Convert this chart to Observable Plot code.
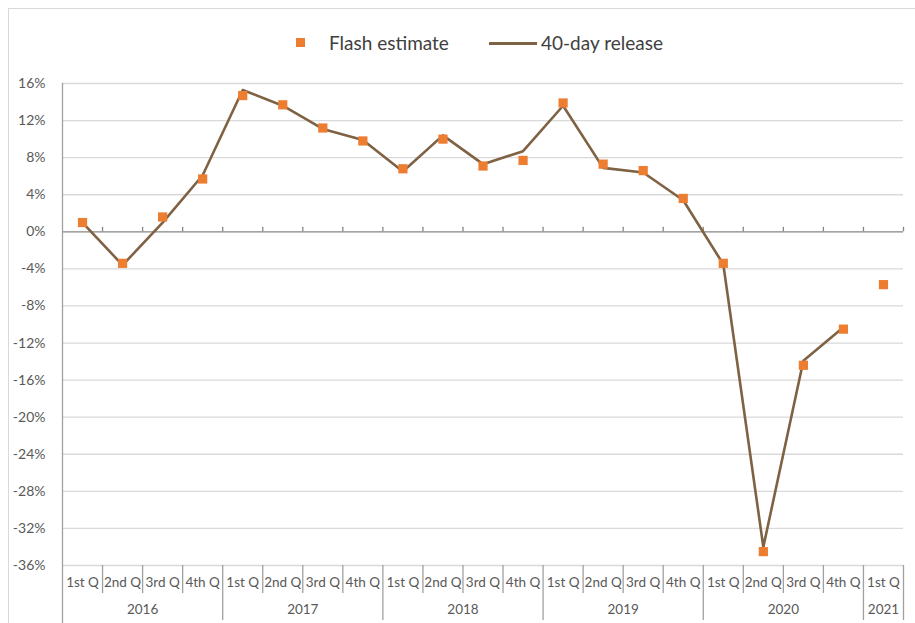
<!DOCTYPE html>
<html>
<head>
<meta charset="utf-8">
<script src="https://cdn.jsdelivr.net/npm/d3@7"></script>
<script src="https://cdn.jsdelivr.net/npm/@observablehq/plot@0.6"></script>
<style>
  html, body { margin: 0; padding: 0; background: #fff; }
  body { width: 915px; height: 623px; position: relative; overflow: hidden; font-family: Lato, "Open Sans", sans-serif; }
  #frame { position: absolute; left: 8px; top: 8px; width: 1000px; height: 1000px; border-left: 1px solid #d9d9d9; border-top: 1px solid #d9d9d9; }
  #legend { position: absolute; left: 0; top: 0; width: 915px; height: 60px; color: #404040; font-size: 19px; }
  #legend .sw-sq { position: absolute; left: 296px; top: 38px; width: 9px; height: 9px; background: #ED7D31; }
  #legend .sw-ln { position: absolute; left: 489px; top: 41.5px; width: 48px; height: 3px; background: #7F6143; }
  #legend .lab { position: absolute; top: 31px; line-height: 24px; white-space: nowrap; }
  #chart { position: absolute; left: 0; top: 60px; }
</style>
</head>
<body>
<div id="frame"></div>
<div id="legend">
  <div class="sw-sq"></div><span class="lab" style="left:329px">Flash estimate</span>
  <div class="sw-ln"></div><span class="lab" style="left:541px">40-day release</span>
</div>
<div id="chart"></div>
<script>
const quarters = ["1st Q","2nd Q","3rd Q","4th Q","1st Q","2nd Q","3rd Q","4th Q","1st Q","2nd Q","3rd Q","4th Q","1st Q","2nd Q","3rd Q","4th Q","1st Q","2nd Q","3rd Q","4th Q","1st Q"];
const years = ["2016","2017","2018","2019","2020","2021"];
const yearQuarterCounts = [4, 4, 4, 4, 4, 1];
const flashEstimate = [1.0, -3.4, 1.6, 5.7, 14.7, 13.7, 11.2, 9.8, 6.8, 10.0, 7.1, 7.7, 13.9, 7.3, 6.6, 3.6, -3.4, -34.5, -14.4, -10.5, -5.7];
const fortyDayRelease = [1.0, -3.6, 1.0, 6.1, 15.3, 13.6, 11.1, 9.9, 6.5, 10.4, 7.3, 8.7, 13.6, 6.9, 6.4, 3.4, -3.5, -34.0, -13.9, -10.3, null];
const yTicks = [16, 12, 8, 4, 0, -4, -8, -12, -16, -20, -24, -28, -32, -36];

const n = quarters.length;
const pts = quarters.map((q, i) => ({i, pos: i + 0.5, q, flash: flashEstimate[i], rel: fortyDayRelease[i]}));

// year groups
let start = 0;
const yearGroups = years.map((y, k) => {
  const g = {year: y, start, end: start + yearQuarterCounts[k]};
  start = g.end;
  return g;
});
const yearBounds = [...new Set(yearGroups.flatMap(g => [g.start, g.end]))];
const quarterBounds = d3.range(1, n).filter(b => !yearBounds.includes(b));

const yMin = -36, yMax = 16;
const plotTop = 23, plotBottomMargin = 58, H = 563;
const pxPerUnit = (H - plotTop - plotBottomMargin) / (yMax - yMin);
const u = px => px / pxPerUnit; // pixel length -> data units

const plot = Plot.plot({
  width: 915,
  height: H,
  marginLeft: 62,
  marginRight: 12,
  marginTop: plotTop,
  marginBottom: plotBottomMargin,
  style: {fontFamily: "Lato, 'Open Sans', sans-serif", color: "#595959", background: "transparent", overflow: "visible"},
  x: {domain: [0, n], axis: null},
  y: {domain: [yMin, yMax], axis: null},
  marks: [
    Plot.ruleY(yTicks.filter(t => t !== 0), {stroke: "#d9d9d9", strokeWidth: 1.3}),
    Plot.ruleY([0], {stroke: "#868686", strokeWidth: 1.3}),
    Plot.ruleX(d3.range(1, n + 1), {y1: 0, y2: u(4.5), stroke: "#868686", strokeWidth: 1.3}),
    Plot.text(yTicks, {x: 0, y: d => d, text: d => d + "%", textAnchor: "end", dx: -17, fontSize: 14, fill: "#595959"}),
    // left axis line
    Plot.ruleX([0], {y1: yMax, y2: yMin - u(60), stroke: "#a0a0a0", strokeWidth: 1.3}),
    // category separators
    Plot.ruleX(quarterBounds, {y1: yMin, y2: yMin - u(28), stroke: "#a0a0a0", strokeWidth: 1.3}),
    Plot.ruleX(yearBounds.filter(b => b > 0), {y1: yMin, y2: yMin - u(55), stroke: "#a0a0a0", strokeWidth: 1.3}),
    Plot.text(pts, {x: "pos", y: yMin, dy: 17, text: "q", fontSize: 13.5, fill: "#595959"}),
    Plot.text(yearGroups, {x: d => (d.start + d.end) / 2, y: yMin, dy: 44, text: "year", fontSize: 13.5, fill: "#595959"}),
    Plot.line(pts, {x: "pos", y: "rel", stroke: "#7F6143", strokeWidth: 2.6, curve: "linear"}),
    Plot.dot(pts, {x: "pos", y: "flash", symbol: "square", r: 5.2, fill: "#ED7D31", stroke: "none"})
  ]
});
document.getElementById("chart").appendChild(plot);
</script>
</body>
</html>
